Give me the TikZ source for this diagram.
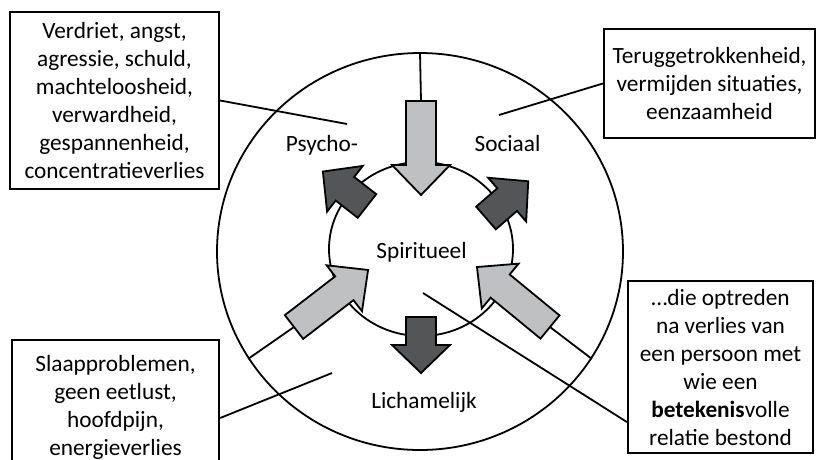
\documentclass[tikz,border=0pt]{standalone}
\usepackage{fontspec}
\setmainfont{Carlito}
\usetikzlibrary{shapes.geometric}
\definecolor{lichtgrijs}{RGB}{191,192,194}
\definecolor{donkergrijs}{RGB}{84,85,87}
\newcommand{\pijl}[6]{%
  \coordinate (#1) at #2;
  \filldraw[fill=#6, line width=1.8pt, shift={#2}, rotate=#3]
    (0,-15) -- (#4,-15) -- (#4,-29) -- (#5,0) -- (#4,29) -- (#4,15) -- (0,15) -- cycle;}

\begin{document}
\begin{tikzpicture}[x=1pt,y=1pt,line width=1.8pt,
  every node/.style={font=\fontsize{23.3}{28}\selectfont},
  kader/.style={draw, line width=2.2pt, align=center, inner sep=0pt}]
  \useasboundingbox (0,0) rectangle (817,-459);
  \clip (0,0) rectangle (817,-459);
  \node[draw, ellipse, minimum width=406, minimum height=397] (buiten) at (420,-251.5) {};
  \node[draw, ellipse, minimum width=184, minimum height=174] (binnen) at (421,-249) {};
  \node[anchor=base] (lpsy) at (322,-151) {Psycho-};
  \node[anchor=base] (lsoc) at (507.5,-151) {Sociaal};
  \node[anchor=base] (lspi) at (421.5,-258) {Spiritueel};
  \node[anchor=base] (llich) at (424,-408) {Lichamelijk};
  \pijl{boven}{(421,-101)}{-90}{64}{94}{lichtgrijs}
  \pijl{linksonder}{(294,-327)}{37.6}{63.5}{93.5}{lichtgrijs}
  \pijl{rechtsonder}{(550,-327)}{140.6}{64.5}{94.5}{lichtgrijs}
  \pijl{onder}{(421,-317)}{-90}{28}{56}{donkergrijs}
  \pijl{linksboven}{(367,-206)}{142}{28}{56}{donkergrijs}
  \pijl{rechtsboven}{(486,-218)}{41}{28}{56}{donkergrijs}
  \draw (buiten.north) -- (boven);
  \draw (linksonder) -- (buiten.212);
  \draw (rechtsonder) -- (buiten.328);
  \node[kader, minimum width=209, minimum height=177] (kpsy) at (114.5,-100.5)
    {Verdriet, angst,\\agressie, schuld,\\machteloosheid,\\verwardheid,\\gespannenheid,\\concentratieverlies};
  \node[kader, minimum width=211, minimum height=109] (ksoc) at (709.5,-83.5)
    {Teruggetrokkenheid,\\vermijden situaties,\\eenzaamheid};
  \node[kader, minimum width=207, minimum height=135] (klich) at (115.5,-407.5)
    {Slaapproblemen,\\geen eetlust,\\hoofdpijn,\\energieverlies};
  \node[kader, minimum width=185, minimum height=172] (kverlies) at (720.5,-367)
    {…die optreden\\na verlies van\\een persoon met\\wie een\\\textbf{betekenis}volle\\relatie bestond};
  \coordinate (ppsy) at (347,-124);
  \coordinate (psoc) at (499,-115);
  \coordinate (plich) at (332,-373);
  \coordinate (pspi) at (423,-293);
  \draw (kpsy.east) -- (ppsy);
  \draw (ksoc.west) -- (psoc);
  \draw ([yshift=-10.5pt]klich.east) -- (plich);
  \draw ([yshift=-55pt]kverlies.west) -- (pspi);
\end{tikzpicture}
\end{document}
